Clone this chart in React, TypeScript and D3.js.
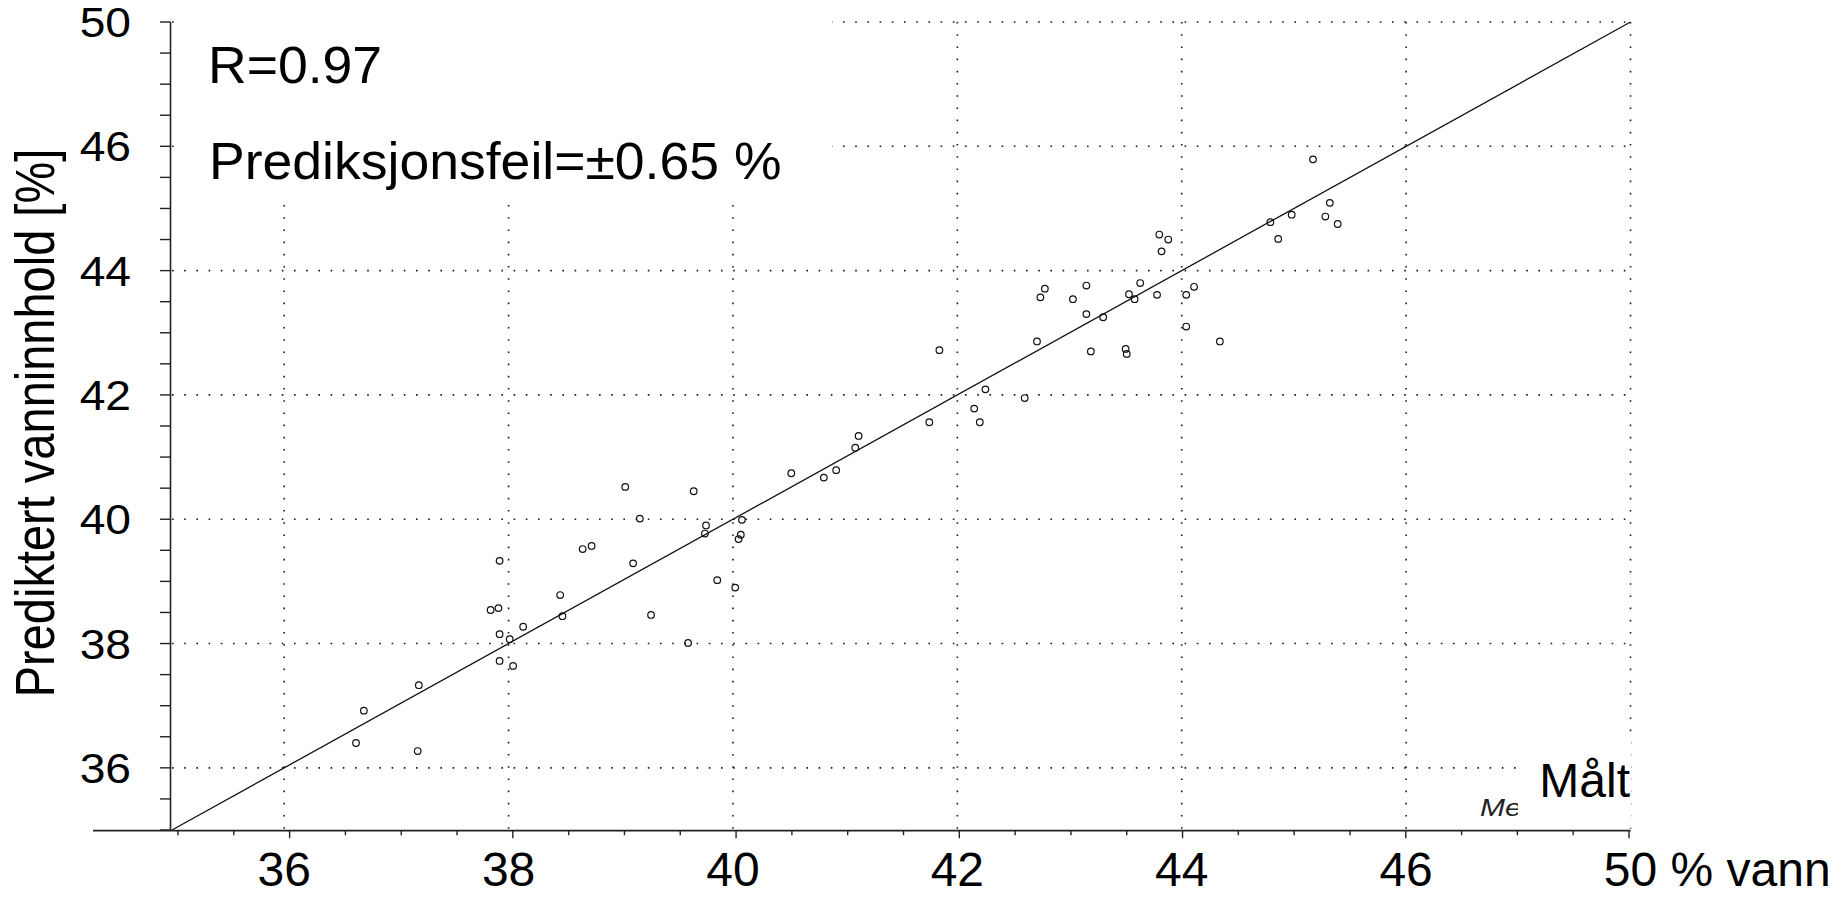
import React from "react";
import * as d3 from "d3";

// Measured water content (x) and predicted water content (y), in %
const measured = [
  36.64, 36.71, 37.2, 37.19, 37.92, 37.84, 37.91, 37.92, 38.01, 37.92, 38.04, 38.13,
  38.46, 38.48, 38.66, 38.74, 39.04, 39.11, 39.17, 39.27, 39.6, 39.65, 39.76, 39.75,
  39.86, 40.02, 40.08, 40.07, 40.05, 40.52, 40.81, 40.92, 41.09, 41.12, 41.75, 41.84,
  42.15, 42.25, 42.2, 42.6, 42.71, 42.74, 42.78, 43.03, 43.15, 43.15, 43.3, 43.19,
  43.5, 43.51, 43.53, 43.58, 43.63, 43.78, 43.8, 43.88, 43.82, 44.04, 44.11, 44.04,
  44.34, 44.79, 44.98, 44.86, 45.17, 45.32, 45.28, 45.39,
];
const predicted = [
  36.4, 36.92, 37.33, 36.27, 39.33, 38.54, 38.57, 38.15, 38.07, 37.72, 37.64, 38.27,
  38.78, 38.44, 39.52, 39.57, 40.52, 39.29, 40.01, 38.46, 38.01, 40.45, 39.9, 39.77,
  39.02, 38.9, 39.99, 39.75, 39.68, 40.74, 40.67, 40.79, 41.15, 41.34, 41.56, 42.72,
  41.78, 42.09, 41.56, 41.95, 42.86, 43.57, 43.71, 43.54, 43.76, 43.3, 43.25, 42.7,
  42.74, 42.66, 43.62, 43.54, 43.8, 43.61, 44.58, 44.5, 44.31, 43.61, 43.74, 43.1,
  42.86, 44.78, 44.9, 44.51, 45.79, 45.09, 44.87, 44.75,
];

const domain = [35, 48];
const gridValues = [36, 38, 40, 42, 44, 46, 48];
const yTickLabels = ["36", "38", "40", "42", "44", "46", "50"];
const xTickLabels = ["36", "38", "40", "42", "44", "46", "50 % vann"];
const statR = "R=0.97";
const statErr = "Prediksjonsfeil=±0.65 %";
const yTitle = "Prediktert vanninnhold [%]";
const xTitle = "Målt";
const hiddenLabel = "Me";

const W = 1845;
const H = 897;
const FONT = "'Liberation Sans', Arial, Helvetica, sans-serif";

export default function App() {
  const x = d3.scaleLinear().domain(domain).range([172, 1630.5]);
  const xAxis = d3.scaleLinear().domain(domain).range([178, 1629]);
  const y = d3.scaleLinear().domain(domain).range([830, 22]);
  const minorTicks = d3.range(35, 48.001, 0.5);

  const dotted = { stroke: "#1a1a1a", strokeWidth: 1.6, strokeDasharray: "1.6 10.6" };
  const pts = measured.map((m, i) => [m, predicted[i]]);
  const diag = d3.line<number>().x((v) => x(v)).y((v) => y(v))(domain) || "";

  const axisY = 830.7;
  const axisX = 170.5;

  return (
    <svg
      width={W}
      height={H}
      style={{ position: "absolute", left: 0, top: 0, display: "block", background: "#fff" }}
      fontFamily={FONT}
    >
      <rect x={0} y={0} width={W} height={H} fill="#fff" />
      {/* grid */}
      {gridValues.map((v) => (
        <line key={"h" + v} x1={x(35)} x2={x(48)} y1={y(v)} y2={y(v)} {...dotted} />
      ))}
      {gridValues.map((v) => (
        <line key={"v" + v} x1={x(v)} x2={x(v)} y1={y(48)} y2={y(35)} {...dotted} />
      ))}
      {/* identity line */}
      <path d={diag} stroke="#111" strokeWidth={1.3} fill="none" />
      {/* points */}
      {pts.map(([m, p], i) => (
        <circle key={i} cx={x(m)} cy={y(p)} r={3.3} fill="none" stroke="#111" strokeWidth={1.2} />
      ))}
      {/* stats box */}
      <rect x={180} y={2} width={652} height={200} fill="#fff" />
      <text transform="translate(208,83) scale(1.05,1)" fontSize={51} fill="#000">{statR}</text>
      <text transform="translate(209,179) scale(1.03,1)" fontSize={52} fill="#000">{statErr}</text>
      {/* x title box */}
      <text transform="translate(1480,816) scale(1.25,1)" fontSize={24} fontStyle="italic" fill="#222">{hiddenLabel}</text>
      <rect x={1518} y={735} width={113} height={93} fill="#fff" />
      <text x={1630} y={797} fontSize={48} textAnchor="end" fill="#000">{xTitle}</text>
      {/* y axis */}
      <line x1={axisX} x2={axisX} y1={y(48)} y2={axisY} stroke="#222" strokeWidth={1.6} />
      {minorTicks.map((v) => (
        <line key={"yt" + v} x1={160} x2={axisX} y1={y(v)} y2={y(v)} stroke="#222" strokeWidth={1.4} />
      ))}
      {/* x axis */}
      <line x1={93} x2={1630.6} y1={axisY} y2={axisY} stroke="#222" strokeWidth={1.8} />
      {minorTicks.map((v) => (
        <line
          key={"xt" + v}
          x1={xAxis(v)}
          x2={xAxis(v)}
          y1={axisY}
          y2={axisY + (v % 2 === 0 ? 7.5 : 4.5)}
          stroke="#222"
          strokeWidth={1.4}
        />
      ))}
      {/* y tick labels */}
      {gridValues.map((v, i) => (
        <text
          key={"yl" + v}
          transform={`translate(131,${y(v) + 15}) scale(1.1,1)`}
          fontSize={42}
          textAnchor="end"
          fill="#000"
        >
          {yTickLabels[i]}
        </text>
      ))}
      {/* x tick labels */}
      {gridValues.map((v, i) =>
        i < gridValues.length - 1 ? (
          <text key={"xl" + v} x={x(v)} y={886} fontSize={48} textAnchor="middle" fill="#000">
            {xTickLabels[i]}
          </text>
        ) : (
          <text key={"xl" + v} x={x(v) - 0.556 * 48} y={886} fontSize={48} fill="#000">
            {xTickLabels[i]}
          </text>
        )
      )}
      {/* y title */}
      <text
        transform={`translate(54,423) scale(1.18,1) rotate(-90)`}
        fontSize={47}
        textAnchor="middle"
        fill="#000"
      >
        {yTitle}
      </text>
    </svg>
  );
}
